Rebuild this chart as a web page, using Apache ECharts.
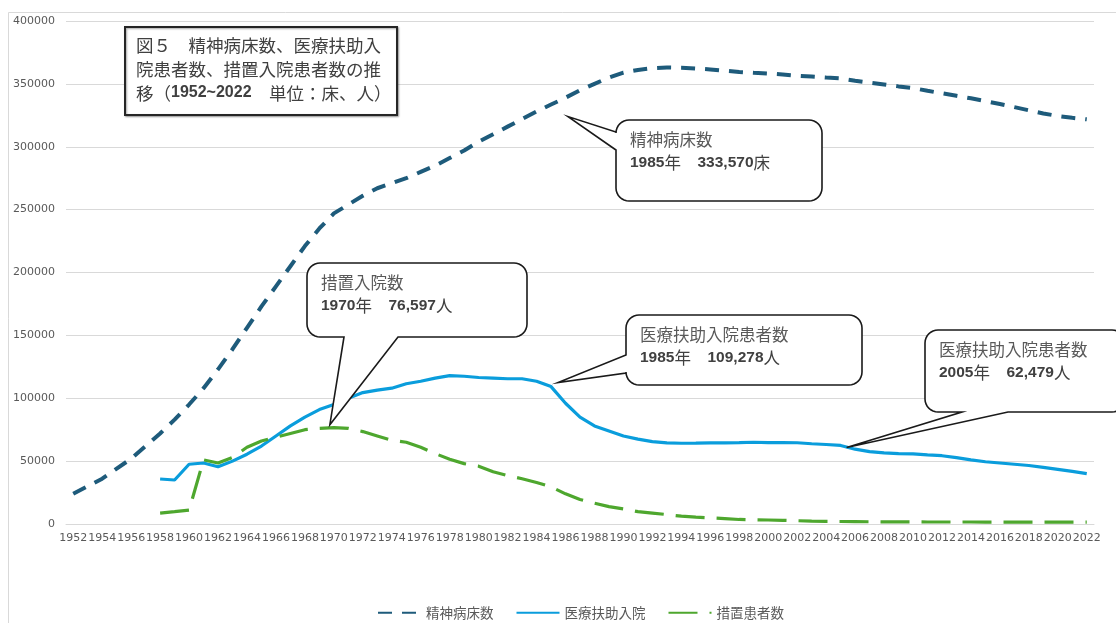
<!DOCTYPE html>
<html>
<head>
<meta charset="utf-8">
<script src="https://cdn.jsdelivr.net/npm/echarts@6/dist/echarts.min.js"></script>
<style>
html,body{margin:0;padding:0;background:#fff;}
#main{width:1116px;height:623px;}
</style>
</head>
<body>
<div id="main"></div>
<script>
// ---------- DATA ----------
const years = ['1952','1953','1954','1955','1956','1957','1958','1959','1960','1961','1962','1963','1964','1965','1966','1967','1968','1969','1970','1971','1972','1973','1974','1975','1976','1977','1978','1979','1980','1981','1982','1983','1984','1985','1986','1987','1988','1989','1990','1991','1992','1993','1994','1995','1996','1997','1998','1999','2000','2001','2002','2003','2004','2005','2006','2007','2008','2009','2010','2011','2012','2013','2014','2015','2016','2017','2018','2019','2020','2021','2022'];

const seriesNames = ['精神病床数', '医療扶助入院', '措置患者数'];

// 精神病床数
const psychBeds = [24000,30000,36000,44000,52000,62000,72000,83000,95000,108000,123000,139000,156000,173000,189000,205000,221000,235000,247000,254000,261000,267000,271000,275000,280000,285000,291000,297000,304000,310000,316000,322000,328000,333570,339000,345000,350000,355000,359000,361000,362500,363000,362800,362200,361500,360500,359500,358800,358200,357500,356500,355800,355000,354300,352500,351000,349500,348000,346700,344500,342500,340500,338500,336300,334000,331500,329000,326500,324500,323000,321800];

// 医療扶助入院 (from 1958)
const medAid = [null,null,null,null,null,null,35800,35000,47500,48500,45500,50000,55500,62000,70000,78000,85000,91000,95000,100000,104500,106500,108000,111500,113500,116000,118000,117500,116500,116000,115500,115500,113500,109278,96000,85000,78000,74000,70000,67500,65500,64500,64200,64300,64500,64500,64700,65000,64700,64800,64600,63800,63200,62479,59500,57500,56500,56000,55800,55000,54300,52800,51000,49500,48500,47500,46500,45000,43500,41800,40000];

// 措置患者数 (from 1958)
const involuntary = [null,null,null,null,null,null,8700,9800,11000,51000,48500,53000,61000,66000,69000,72000,75000,76000,76597,76000,73500,70000,66500,65000,61000,56000,51500,48000,46000,41500,38500,36000,33000,29500,24000,19500,16500,13800,12000,9800,8700,7500,6200,5500,4900,4300,3600,3300,3200,2900,2600,2300,2100,2000,1900,1800,1700,1700,1700,1600,1600,1600,1600,1500,1500,1500,1500,1500,1500,1500,1500];

const yTicks = [0, 50000, 100000, 150000, 200000, 250000, 300000, 350000, 400000];

const titleLines = ['図５　精神病床数、医療扶助入', '院患者数、措置入院患者数の推', '移（{b|1952~2022}　単位：床、人）'];

// callouts: anchored to a data point of a series
const callouts = [
  { head: '精神病床数', body: '{b|1985}年　{b|333,570}床', year: '1985', series: 0 },
  { head: '措置入院数', body: '{b|1970}年　{b|76,597}人', year: '1970', series: 2 },
  { head: '医療扶助入院患者数', body: '{b|1985}年　{b|109,278}人', year: '1985', series: 1 },
  { head: '医療扶助入院患者数', body: '{b|2005}年　{b|62,479}人', year: '2005', series: 1 }
];

// ---------- CHART ----------
const CJK = '"Noto Sans CJK JP", "Noto Sans", sans-serif';
const chart = echarts.init(document.getElementById('main'), null, { renderer: 'canvas' });
const allSeries = [psychBeds, medAid, involuntary];

const option = {
  backgroundColor: '#ffffff',
  animation: false,
  grid: { left: 66, right: 22, top: 21, bottom: 99, containLabel: false },
  legend: {
    data: seriesNames,
    left: 372,
    top: 601,
    itemWidth: 43,
    itemHeight: 14,
    itemGap: 22,
    itemStyle: { opacity: 0 },
    textStyle: { color: '#595959', fontSize: 13.5, fontFamily: CJK }
  },
  xAxis: {
    type: 'category',
    data: years,
    boundaryGap: true,
    axisLine: { lineStyle: { color: '#d9d9d9', width: 1 } },
    axisTick: { show: false },
    axisLabel: { interval: 1, color: '#595959', fontSize: 11, fontFamily: 'DejaVu Sans', margin: 9 }
  },
  yAxis: {
    type: 'value',
    min: yTicks[0],
    max: yTicks[yTicks.length - 1],
    interval: yTicks[1] - yTicks[0],
    axisLine: { show: false },
    axisTick: { show: false },
    splitLine: { lineStyle: { color: '#d9d9d9', width: 1 } },
    axisLabel: { color: '#595959', fontSize: 11, fontFamily: 'DejaVu Sans', margin: 11, formatter: v => String(v) }
  },
  series: [
    {
      name: seriesNames[0], type: 'line', data: psychBeds, symbol: 'none', z: 3,
      lineStyle: { color: '#1e5b7b', width: 4, type: [14, 10], cap: 'butt' },
      itemStyle: { color: '#1e5b7b' }
    },
    {
      name: seriesNames[1], type: 'line', data: medAid, symbol: 'none', z: 2,
      lineStyle: { color: '#0a9ddc', width: 3.2, type: 'solid' },
      itemStyle: { color: '#0a9ddc' }
    },
    {
      name: seriesNames[2], type: 'line', data: involuntary, symbol: 'none', z: 2,
      lineStyle: { color: '#4ea72e', width: 3.2, type: [29, 12], cap: 'butt' },
      itemStyle: { color: '#4ea72e' }
    }
  ]
};
chart.setOption(option);

// ---------- ANNOTATIONS ----------
function arcPts(cx, cy, r, a0, a1, out) {
  const n = 8;
  for (let i = 0; i <= n; i++) {
    const a = (a0 + (a1 - a0) * i / n) * Math.PI / 180;
    out.push([cx + r * Math.cos(a), cy + r * Math.sin(a)]);
  }
}
function calloutPoints(x, y, w, h, r, tail) {
  const p = [];
  arcPts(x + w - r, y + r, r, -90, 0, p);
  arcPts(x + w - r, y + h - r, r, 0, 90, p);
  if (tail.side === 'bottom') {
    p.push([tail.b2, y + h], [tail.ax, tail.ay], [tail.b1, y + h]);
  }
  arcPts(x + r, y + h - r, r, 90, 180, p);
  if (tail.side === 'left') {
    p.push([x, tail.b2], [tail.ax, tail.ay], [x, tail.b1]);
  }
  arcPts(x + r, y + r, r, 180, 270, p);
  return p;
}

// box layout and pointer offsets from the anchored data point
const boxLayout = [
  { x: 616, y: 120, w: 206, h: 81, side: 'left', b1: 132, b2: 150, dx: 17, dy: 12 },
  { x: 307, y: 263, w: 220, h: 74, side: 'bottom', b1: 344, b2: 398, dx: -4, dy: -3 },
  { x: 626, y: 315, w: 236, h: 70, side: 'left', b1: 355, b2: 373, dx: 7, dy: -4 },
  { x: 925, y: 330, w: 200, h: 82, side: 'bottom', b1: 962, b2: 1008, dx: 6, dy: 2 }
];

const graphics = [];
graphics.push({ type: 'rect', z: 0, silent: true, shape: { x: 8.5, y: 12.5, width: 1200, height: 700 },
  style: { fill: null, stroke: '#d9d9d9', lineWidth: 1 } });

graphics.push({ type: 'rect', z: 50, shape: { x: 125, y: 27, width: 272, height: 88 },
  style: { fill: '#ffffff', stroke: '#262626', lineWidth: 2, shadowBlur: 2, shadowColor: 'rgba(0,0,0,0.35)', shadowOffsetX: 1, shadowOffsetY: 1 } });
titleLines.forEach((t, i) => {
  graphics.push({ type: 'text', z: 51, x: 136, y: 45 + i * 24,
    style: { text: t, fill: '#404040', font: '17.5px ' + CJK, textVerticalAlign: 'middle',
      rich: { b: { fontWeight: 'bold', fontSize: 16, fontFamily: 'Liberation Sans', fill: '#404040' } } } });
});

callouts.forEach((c, i) => {
  const L = boxLayout[i];
  const yi = years.indexOf(c.year);
  const pt = chart.convertToPixel({ seriesIndex: c.series }, [yi, allSeries[c.series][yi]]);
  const tail = { side: L.side, b1: L.b1, b2: L.b2, ax: pt[0] + L.dx, ay: pt[1] + L.dy };
  graphics.push({ type: 'polygon', z: 40, shape: { points: calloutPoints(L.x, L.y, L.w, L.h, 13, tail) },
    style: { fill: '#ffffff', stroke: '#1a1a1a', lineWidth: 1.6 } });
  graphics.push({ type: 'text', z: 41, x: L.x + 14, y: L.y + 20,
    style: { text: c.head, fill: '#595959', font: '16.5px ' + CJK, textVerticalAlign: 'middle' } });
  graphics.push({ type: 'text', z: 41, x: L.x + 14, y: L.y + 43,
    style: { text: c.body, fill: '#404040', font: '16.5px ' + CJK, textVerticalAlign: 'middle',
      rich: { b: { fontWeight: 'bold', fontSize: 15.5, fontFamily: 'Liberation Sans', fill: '#404040' } } } });
});

chart.setOption({ graphic: graphics });
</script>
</body>
</html>
